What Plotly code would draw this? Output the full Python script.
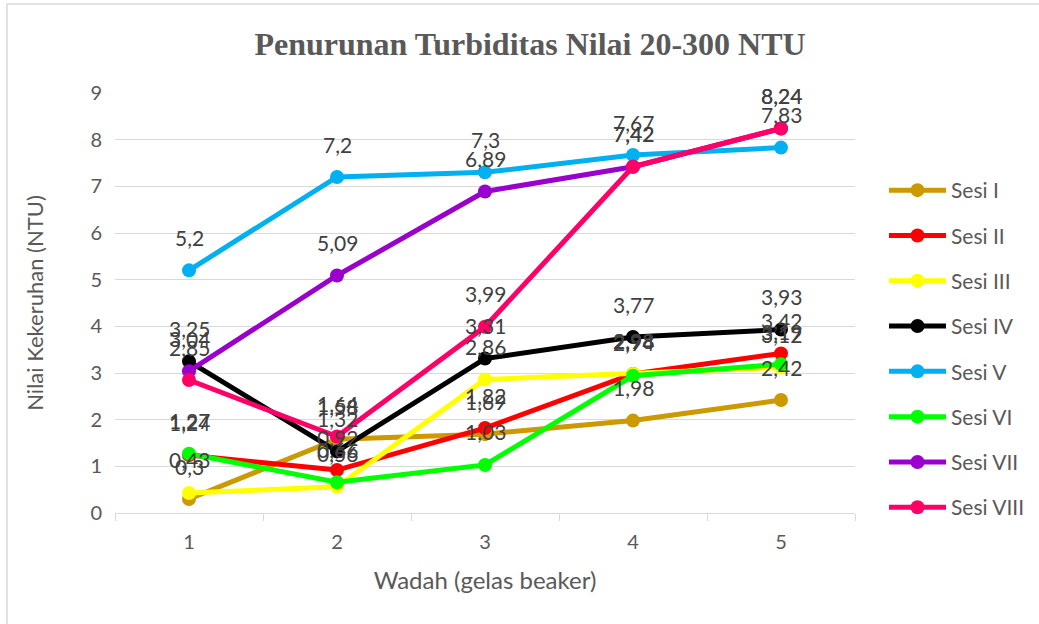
import plotly.graph_objects as go

wadah = [1, 2, 3, 4, 5]
series_names = ["Sesi I", "Sesi II", "Sesi III", "Sesi IV", "Sesi V", "Sesi VI", "Sesi VII", "Sesi VIII"]
sesi_1 = [0.3, 1.58, 1.69, 1.98, 2.42]
sesi_2 = [1.24, 0.92, 1.82, 2.98, 3.42]
sesi_3 = [0.43, 0.56, 2.86, 2.98, 3.12]
sesi_4 = [3.25, 1.32, 3.31, 3.77, 3.93]
sesi_5 = [5.2, 7.2, 7.3, 7.67, 7.83]
sesi_6 = [1.27, 0.66, 1.03, 2.94, 3.19]
sesi_7 = [3.04, 5.09, 6.89, 7.42, 8.24]
sesi_8 = [2.85, 1.64, 3.99, 7.42, 8.24]
colors = ["#CC9900", "#FF0000", "#FFFF00", "#000000", "#00B0F0", "#00FF00", "#9900CC", "#FF0066"]
all_series = [sesi_1, sesi_2, sesi_3, sesi_4, sesi_5, sesi_6, sesi_7, sesi_8]

FONT = "Lato, Carlito, Calibri, sans-serif"
TXT = "#595959"

fig = go.Figure()
annotations = []
for i, (name, vals, col) in enumerate(zip(series_names, all_series, colors)):
    fig.add_trace(go.Scatter(
        x=wadah, y=vals, name=name, mode="lines+markers",
        line=dict(color=col, width=5),
        marker=dict(color=col, size=14),
        legendgroup=f"g{i}",
    ))
    for xv, yv in zip(wadah, vals):
        annotations.append(dict(
            x=xv, y=yv, xref="x", yref="y", text=f"{yv:g}".replace(".", ","),
            showarrow=False, yshift=33, yanchor="middle",
            font=dict(family=FONT, size=21, color="#404040"),
        ))

L, T = 115, 93
PW, PH = 740, 420

fig.update_layout(
    width=1039, height=624,
    paper_bgcolor="white", plot_bgcolor="white",
    margin=dict(l=L, r=1039 - L - PW, t=T, b=624 - T - PH, autoexpand=False),
    title=dict(
        text="<b>Penurunan Turbiditas Nilai 20-300 NTU</b>",
        x=530 / 1039, xanchor="center",
        y=1 - 44 / 624, yanchor="middle",
        font=dict(family="Liberation Serif", size=32, color=TXT),
    ),
    font=dict(family=FONT, color=TXT),
    xaxis=dict(
        range=[0.5, 5.5], tickvals=wadah, ticktext=[str(v) for v in wadah],
        showgrid=False, zeroline=False,
        showline=True, linecolor="#D9D9D9", linewidth=1,
        ticks="", tickfont=dict(size=20, color=TXT, family=FONT),
        minor=dict(ticks="outside", tick0=0.5, dtick=1, ticklen=7, tickcolor="#D9D9D9", showgrid=False),
        title=dict(text="Wadah (gelas beaker)", font=dict(size=24, color=TXT, family=FONT), standoff=20),
        ticklabelstandoff=11,
    ),
    yaxis=dict(
        range=[0, 9], dtick=1, tick0=0,
        showgrid=True, gridcolor="#D9D9D9", gridwidth=1,
        zeroline=False, showline=False,
        tickfont=dict(size=20, color=TXT, family=FONT),
        ticklabelstandoff=12,
        title=dict(text="Nilai Kekeruhan (NTU)", font=dict(size=22, color=TXT, family=FONT), standoff=40),
    ),
    legend=dict(
        x=(884 - L) / PW, xanchor="left", y=(T + PH - 170) / PH, yanchor="top",
        font=dict(size=21, color=TXT, family=FONT),
        tracegroupgap=15, itemwidth=57,
        bgcolor="rgba(0,0,0,0)",
    ),
    annotations=annotations,
    shapes=[dict(type="rect", xref="paper", yref="paper",
                 x0=(7 - L) / PW, x1=(1100 - L) / PW, y0=-(700 - T - PH) / PH, y1=1 + (T - 4) / PH,
                 line=dict(color="#D9D9D9", width=1.5), layer="below")],
)

fig.write_html("out.html", config={"displayModeBar": False},
               post_script="document.body.style.margin='0';document.body.style.padding='0';")
